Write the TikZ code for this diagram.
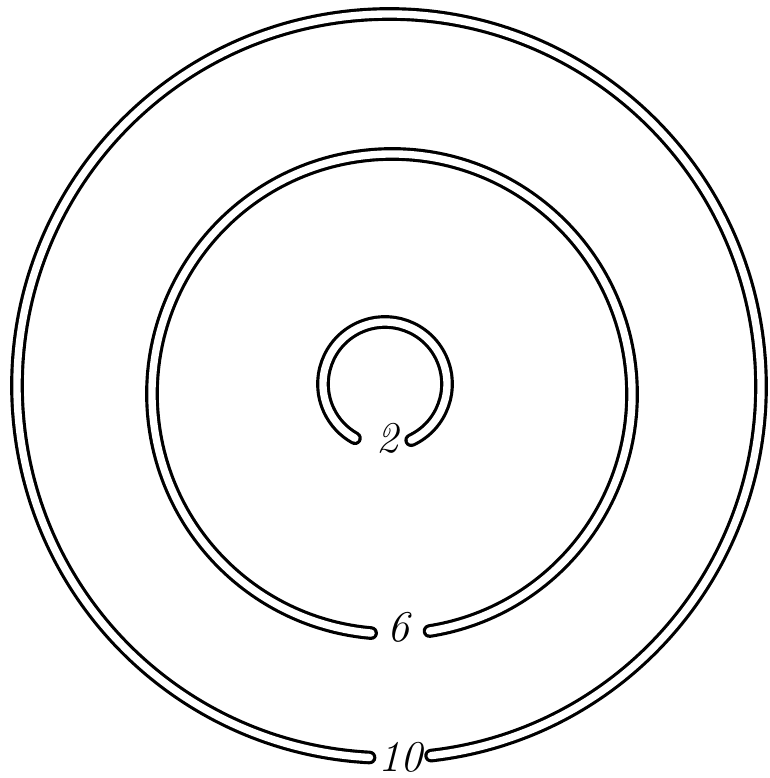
\documentclass[tikz,border=0pt]{standalone}
\usepackage{tikz}

\begin{document}
\begin{tikzpicture}[x=0.02cm,y=0.02cm,
    ring/.style={line width=1.8pt,double=white,double distance=4.2pt,line cap=round},
    num/.style={font=\fontsize{25}{25}\selectfont\itshape,inner sep=0pt}]
  \useasboundingbox (0,0) rectangle (770,778);
  % the three open rings, gap at the bottom
  \draw[ring] (389,392) ++(-83.5:372) arc[start angle=-83.5,end angle=267,radius=372];
  \draw[ring] (392,384) ++(-81:240) arc[start angle=-81,end angle=265,radius=240];
  \draw[ring] (385,394) ++(-65:62) arc[start angle=-65,end angle=241,radius=62];
  \node[num] (two) at (387,340) {2};
  \node[num] (six) at (398,151) {6};
  \node[num] (ten) at (400,21) {10};
\end{tikzpicture}
\end{document}
